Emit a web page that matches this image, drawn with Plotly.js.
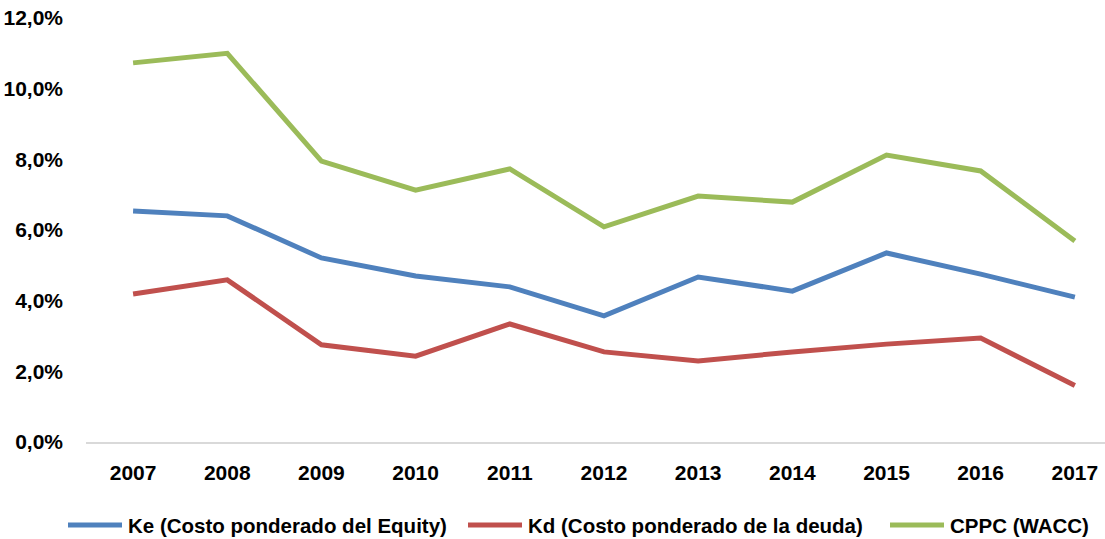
<!DOCTYPE html>
<html>
<head>
<meta charset="utf-8">
<script src="https://cdn.plot.ly/plotly-3.0.1.min.js"></script>
<style>html,body{margin:0;padding:0;background:#fff;}#chart{width:1105px;height:539px;}</style>
</head>
<body>
<div id="chart"></div>
<script>
const years = ["2007","2008","2009","2010","2011","2012","2013","2014","2015","2016","2017"];
const ke   = [0.0654,0.0640,0.0521,0.0470,0.0439,0.0357,0.0467,0.0427,0.0535,0.0475,0.0410];
const kd   = [0.0419,0.0459,0.0275,0.0243,0.0334,0.0255,0.0229,0.0255,0.0277,0.0294,0.0160];
const cppc = [0.1073,0.1100,0.0795,0.0713,0.0773,0.0609,0.0696,0.0679,0.0812,0.0767,0.0569];
const names = ["Ke (Costo ponderado del Equity)","Kd (Costo ponderado de la deuda)","CPPC (WACC)"];
const colors = ["#4F81BD","#C0504D","#9BBB59"];

const series = [ke, kd, cppc];
const traces = series.map((s,i)=>({
  type:'scatter', mode:'lines', x:years, y:s, name:names[i],
  line:{color:colors[i], width:5}, showlegend:false
}));

const W = 1105, H = 539, ML = 86, MT = 18, MB = 97;
const PW = W - ML, PH = H - MT - MB;
const px2x = p => (p - ML) / PW;
const py2y = p => (H - MB - p) / PH;

const font = {family:'"Liberation Sans", Arial, sans-serif', size:21, color:'#000', weight:700};
const lfont = {family:'"Liberation Sans", Arial, sans-serif', size:20.5, color:'#000', weight:700};

// legend layout (pixel positions of entries)
const legStart = [68, 468, 890];
const legLen = 54;
const legY = 525;
const shapes = names.map((n,i)=>({
  type:'line', xref:'paper', yref:'paper',
  x0:px2x(legStart[i]), x1:px2x(legStart[i]+legLen), y0:py2y(legY), y1:py2y(legY),
  line:{color:colors[i], width:5}
}));
const annotations = names.map((n,i)=>({
  xref:'paper', yref:'paper', x:px2x(legStart[i]+legLen+4), y:py2y(legY),
  xanchor:'left', yanchor:'middle', text:n, showarrow:false, font:lfont
}));

const layout = {
  width:W, height:H,
  margin:{l:ML, r:0, t:MT, b:MB},
  paper_bgcolor:'#fff', plot_bgcolor:'#fff',
  separators:',.',
  font:font,
  showlegend:false,
  shapes:shapes, annotations:annotations,
  xaxis:{type:'category', range:[-0.5,10.32], showline:true, linecolor:'#D9D9D9', linewidth:2,
         showgrid:false, zeroline:false, ticks:'', tickfont:font, ticklabelstandoff:11},
  yaxis:{range:[0,0.12], dtick:0.02, tickformat:'.1%', showgrid:false, zeroline:false, showline:false,
         ticks:'', tickfont:font, ticklabelstandoff:22}
};

Plotly.newPlot('chart', traces, layout, {displayModeBar:false, staticPlot:true});
</script>
</body>
</html>
